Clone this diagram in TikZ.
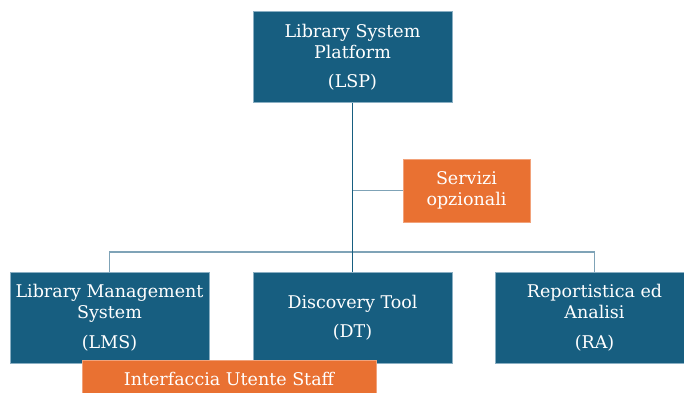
\documentclass[tikz,border=0pt]{standalone}
\usepackage{fontspec}
\setmainfont{DejaVu Serif}
\definecolor{bluebox}{HTML}{175E80}
\definecolor{blueedge}{HTML}{8AAFC3}
\definecolor{orangebox}{HTML}{E97132}
\definecolor{orangeedge}{HTML}{F2A27A}
\definecolor{buscol}{HTML}{7FA3B7}
\begin{document}
\begin{tikzpicture}[x=1pt,y=-1pt,
  txt/.style={text=white, align=center, inner sep=0pt, font=\fontsize{17.5}{21}\selectfont},
  bluenode/.style={txt, fill=bluebox, draw=blueedge, line width=0.7pt, minimum width=199pt, minimum height=91pt},
  orangenode/.style={txt, fill=orangebox, draw=orangeedge, line width=0.7pt},
  bus/.style={draw=buscol, line width=1.6pt},
  trunk/.style={draw=bluebox, line width=1.7pt}]
\useasboundingbox (0,0) rectangle (684,392);
\clip (0,0) rectangle (684,392);
\fill[white] (0,0) rectangle (684,392);
\node[bluenode] (lsp) at (352.5,57) {Library System\\Platform\\[8.5pt](LSP)};
\node[orangenode, minimum width=127pt, minimum height=63pt] (srv) at (466.5,190.5) {Servizi\\opzionali};
\node[bluenode] (lms) at (109.5,317.5) {Library Management\\System\\[8.5pt](LMS)};
\node[bluenode] (dt) at (352.5,317.5) {Discovery Tool\\[8.5pt](DT)};
\node[bluenode] (ra) at (594.5,317.5) {Reportistica ed\\Analisi\\[8.5pt](RA)};
\node[orangenode, minimum width=294pt, minimum height=38pt] (ui) at (229,379) {Interfaccia Utente Staff};
\coordinate (branch) at (lsp.south |- srv.west);
\draw[bus] (branch) -- (srv.west);
\draw[bus] (lms.north) -- ++(0,-19.5) -| (ra.north);
\draw[trunk] (lsp.south) -- (dt.north);
\end{tikzpicture}
\end{document}
